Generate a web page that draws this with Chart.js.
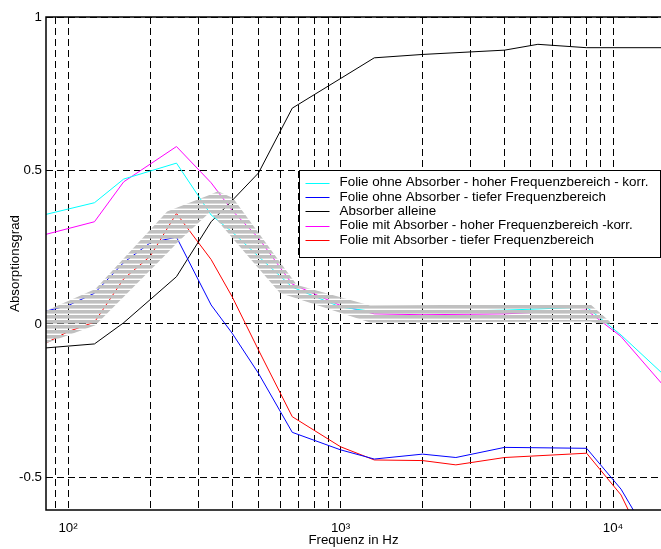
<!DOCTYPE html>
<html>
<head>
<meta charset="utf-8">
<script src="https://cdn.jsdelivr.net/npm/chart.js@4.4.0/dist/chart.umd.min.js"></script>
<style>
  html, body { margin: 0; padding: 0; background: #fff; }
  #absorption-chart { display: block; }
</style>
</head>
<body>
<canvas id="absorption-chart" width="661" height="549"></canvas>
<script>

// frequencies of the measured curves (Hz)
const freqLow = [83, 100, 125, 160, 200, 250, 335, 400, 500, 665, 1000, 1330, 2000, 2650, 4000, 8000, 10700, 12500];
const freqHigh = [83, 125, 160, 250, 335, 400, 500, 665, 1000, 1330, 2000, 4000, 8000, 10700, 16000];
const freqAbsorber = [83, 125, 160, 250, 335, 400, 500, 665, 1330, 2000, 4000, 5300, 8000, 15000];

// absorption values
const ohneHoch = [0.357, 0.395, 0.472, 0.524, 0.355, 0.30, 0.22, 0.12, 0.055, 0.04, 0.04, 0.045, 0.055, -0.036, -0.18];
const ohneTief = [0.042, 0.06, 0.10, 0.20, 0.264, 0.283, 0.062, -0.030, -0.161, -0.353, -0.410, -0.440, -0.424, -0.435, -0.402, -0.405, -0.538, -0.64];
const absorberAllein = [-0.078, -0.065, 0.004, 0.154, 0.333, 0.402, 0.492, 0.703, 0.867, 0.878, 0.892, 0.911, 0.900, 0.900];
const mitHoch = [0.292, 0.333, 0.463, 0.578, 0.46, 0.37, 0.28, 0.13, 0.06, 0.033, 0.03, 0.033, 0.045, -0.041, -0.22];
const mitTief = [-0.062, -0.025, 0.006, 0.147, 0.22, 0.36, 0.21, 0.089, -0.085, -0.302, -0.400, -0.443, -0.445, -0.459, -0.435, -0.421, -0.557, -0.68];

// grey hatched overlap band
const bandFreq = [83, 126, 231, 253, 332, 355, 403, 599, 692, 1282, 8233, 9748];
const bandTop = [0.043, 0.114, 0.366, 0.380, 0.421, 0.432, 0.410, 0.202, 0.127, 0.060, 0.065, 0.007];
const bandBottom = [-0.063, -0.004, 0.230, 0.267, 0.365, 0.335, 0.278, 0.101, 0.083, 0.005, 0.008, -0.003];

const seriesLabels = [
    'Folie ohne Absorber - hoher Frequenzbereich - korr.',
    'Folie ohne Absorber - tiefer Frequenzbereich',
    'Absorber alleine',
    'Folie mit Absorber - hoher Frequenzbereich -korr.',
    'Folie mit Absorber - tiefer Frequenzbereich'
];
const seriesColors = ['#00ffff', '#0000ff', '#000000', '#ff00ff', '#ff0000'];

const gridFreqs = [90, 100, 200, 300, 400, 500, 600, 700, 800, 900, 1000, 2000, 3000, 4000, 5000, 6000, 7000, 8000, 9000, 10000];
const decadeLabels = {100: '10\u00b2', 1000: '10\u00b3', 10000: '10\u2074'};
const yTicks = [-0.5, 0, 0.5, 1];
const yTickLabels = ['-0.5', '0', '0.5', '1'];


function toPoints(xs, ys) {
    let pts = [];
    for (let i = 0; i < xs.length; ++i) {
        pts.push({x: xs[i], y: ys[i]});
    }
    return pts;
}

function makeStripes() {
    let c = document.createElement('canvas');
    c.width = 4;
    c.height = 5;
    let g = c.getContext('2d');
    g.fillStyle = '#c0c0c0';
    g.fillRect(0, 0, 4, 3.6);
    return g.createPattern(c, 'repeat');
}

function lineSet(i, xs, ys) {
    return {
        label: seriesLabels[i],
        data: toPoints(xs, ys),
        borderColor: seriesColors[i],
        borderWidth: 1,
        pointRadius: 0,
        fill: false,
        tension: 0,
        order: 0
    };
}

// solid axes box on left, top and bottom
const axesFrame = {
    id: 'axesFrame',
    afterDraw(chart) {
        const ctx = chart.ctx;
        const a = chart.chartArea;
        ctx.save();
        ctx.strokeStyle = '#000';
        ctx.lineWidth = 1.5;
        ctx.beginPath();
        ctx.moveTo(a.right, a.top);
        ctx.lineTo(a.left, a.top);
        ctx.lineTo(a.left, a.bottom);
        ctx.lineTo(a.right, a.bottom);
        ctx.stroke();
        ctx.restore();
    }
};

// matlab style legend inside the axes
const boxLegend = {
    id: 'boxLegend',
    afterDraw(chart) {
        const ctx = chart.ctx;
        const a = chart.chartArea;
        const left = a.left + 253.5;
        const top = Math.round(chart.scales.y.getPixelForValue(0.5)) + 0.5;
        const w = a.right - left - 0.5;
        const h = 87;
        ctx.save();
        ctx.fillStyle = '#fff';
        ctx.fillRect(left, top, w, h);
        ctx.strokeStyle = '#000';
        ctx.lineWidth = 1;
        ctx.strokeRect(left, top, w, h);
        ctx.font = '13.4px "Liberation Sans", Arial, sans-serif';
        ctx.textBaseline = 'middle';
        ctx.fillStyle = '#000';
        for (let i = 0; i < seriesLabels.length; ++i) {
            let yy = top + 12 + i * 14.4;
            ctx.strokeStyle = seriesColors[i];
            ctx.beginPath();
            ctx.moveTo(left + 6, Math.round(yy) + 0.5);
            ctx.lineTo(left + 30, Math.round(yy) + 0.5);
            ctx.stroke();
            ctx.fillText(seriesLabels[i], left + 40, yy);
        }
        ctx.restore();
    }
};


Chart.defaults.font.family = '"Liberation Sans", Arial, sans-serif';
Chart.defaults.font.size = 13.3;
Chart.defaults.color = '#000';

const bandPattern = makeStripes();

const config = {
    type: 'line',
    data: {
        datasets: [
            {
                label: 'band top',
                data: toPoints(bandFreq, bandTop),
                borderColor: 'rgba(0,0,0,0)',
                borderWidth: 0,
                pointRadius: 0,
                backgroundColor: bandPattern,
                fill: '+1',
                order: -1
            },
            {
                label: 'band bottom',
                data: toPoints(bandFreq, bandBottom),
                borderColor: 'rgba(0,0,0,0)',
                borderWidth: 0,
                pointRadius: 0,
                fill: false,
                order: -1
            },
            lineSet(0, freqHigh, ohneHoch),
            lineSet(1, freqLow, ohneTief),
            lineSet(2, freqAbsorber, absorberAllein),
            lineSet(3, freqHigh, mitHoch),
            lineSet(4, freqLow, mitTief)
        ]
    },
    options: {
        responsive: false,
        animation: false,
        devicePixelRatio: 1,
        layout: { padding: { top: 17, right: 0, left: 0, bottom: 0 } },
        plugins: {
            legend: { display: false },
            tooltip: { enabled: false }
        },
        scales: {
            x: {
                type: 'logarithmic',
                min: 83,
                max: 15000,
                afterBuildTicks: function(scale) {
                    scale.ticks = gridFreqs.map(v => ({value: v}));
                },
                afterFit: function(scale) {
                    scale.height = 39;
                },
                ticks: {
                    autoSkip: false,
                    maxRotation: 0,
                    padding: 10,
                    callback: function(value) {
                        return decadeLabels[value] || '';
                    }
                },
                grid: { color: '#000', lineWidth: 1, drawTicks: false },
                border: { display: false, dash: [7, 4] },
                title: {
                    display: true,
                    text: 'Frequenz in Hz',
                    padding: { top: 0, bottom: 1 }
                }
            },
            y: {
                type: 'linear',
                min: -0.606,
                max: 1,
                afterBuildTicks: function(scale) {
                    scale.ticks = yTicks.map(v => ({value: v}));
                },
                afterFit: function(scale) {
                    scale.width = 46;
                },
                ticks: {
                    padding: 4,
                    callback: function(value) {
                        return yTickLabels[yTicks.indexOf(value)];
                    }
                },
                grid: { color: '#000', lineWidth: 1, drawTicks: false },
                border: { display: false, dash: [7, 4] },
                title: {
                    display: true,
                    text: 'Absorptionsgrad',
                    padding: { top: 7, bottom: 0 }
                }
            }
        }
    },
    plugins: [axesFrame, boxLegend]
};

let absorptionChart = new Chart('absorption-chart', config);
</script>
</body>
</html>
